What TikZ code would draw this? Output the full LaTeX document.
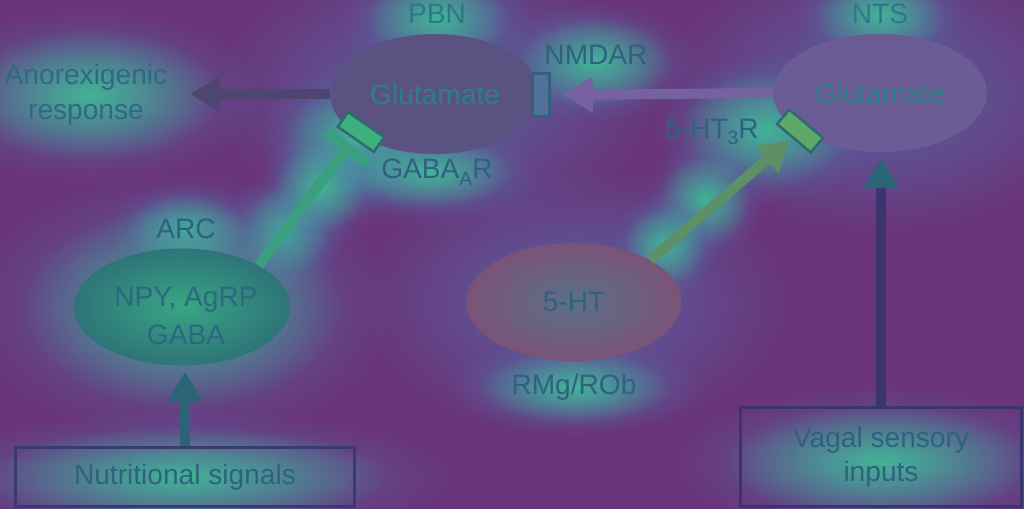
\documentclass[tikz,border=0pt]{standalone}
\usepackage{fontspec}
\setmainfont{Liberation Sans}
\usetikzlibrary{arrows.meta,shapes.geometric,fadings}
\tikzfading[name=glowfade, inner color=transparent!0, outer color=transparent!100]
\definecolor{bg}{HTML}{6A347A}
\definecolor{hblue}{HTML}{5078B0}
\definecolor{hgreen}{HTML}{3FBF92}
\definecolor{pbnc}{HTML}{5A5381}
\definecolor{ntsc}{HTML}{6B5C96}
\definecolor{arcin}{HTML}{38A683}
\definecolor{arcout}{HTML}{2E7478}
\definecolor{htin}{HTML}{5A7088}
\definecolor{htout}{HTML}{7A5378}
\definecolor{gluc}{HTML}{2B8088}
\definecolor{txtc}{HTML}{2E6280}
\definecolor{boxc}{HTML}{3A3A72}
\definecolor{ntsarr}{HTML}{7662A0}
\definecolor{pbnarr}{HTML}{4E4670}
\definecolor{arcline}{HTML}{3B9F7F}
\definecolor{nutarr}{HTML}{2C6477}
\definecolor{htarr}{HTML}{5E9068}
\definecolor{vagarr}{HTML}{3A3470}
\definecolor{recgreen}{HTML}{3DB07D}
\definecolor{recolive}{HTML}{5EA86A}
\definecolor{recedge}{HTML}{2E6A70}
\definecolor{nmdafill}{HTML}{51709A}
\newcommand\hglow[4]{%
  \fill[hblue, opacity=0.75, path fading=glowfade] (#1,#2) ellipse ({1.6*#3} and {1.6*#4});
  \fill[hgreen, opacity=0.85, path fading=glowfade] (#1,#2) ellipse ({1.2*#3} and {1.2*#4});
}
\newcommand\bglow[4]{%
  \fill[hblue, opacity=0.7, path fading=glowfade] (#1,#2) ellipse ({1.6*#3} and {1.6*#4});
}
\begin{document}
\begin{tikzpicture}[x=0.02cm,y=-0.02cm,
  lab/.style={font=\fontsize{16}{20}\selectfont, inner sep=0pt, align=center, text=txtc},
  cell/.style={ellipse, inner sep=0pt, font=\fontsize{16}{20}\selectfont, text=gluc},
  arr/.style={line width=0.2cm, -{Triangle[length=0.6cm,width=0.68cm]}},
  box/.style={draw=boxc, line width=0.06cm, inner sep=0pt, font=\fontsize{16}{20}\selectfont, text=txtc, align=center},
  recep/.style={draw=recedge, line width=0.05cm, inner sep=0pt}
]
\fill[bg] (0,0) rectangle (1024,509);
\useasboundingbox (0,0) rectangle (1024,509);
% heat glows
\bglow{435}{94}{140}{88}
\bglow{880}{93}{140}{88}
\bglow{574}{302}{135}{85}
\hglow{437}{18}{60}{38}
\hglow{595}{62}{65}{38}
\hglow{90}{95}{110}{55}
\hglow{355}{140}{60}{48}
\hglow{430}{172}{70}{30}
\hglow{285}{230}{38}{38}
\hglow{320}{188}{38}{38}
\hglow{186}{229}{50}{30}
\hglow{182}{307}{135}{85}
\hglow{185}{477}{170}{42}
\hglow{765}{130}{70}{48}
\hglow{705}{200}{38}{38}
\hglow{665}{245}{34}{34}
\hglow{574}{387}{80}{30}
\hglow{880}{15}{55}{35}
\hglow{880}{462}{130}{48}
% regions
\node[cell, fill=pbnc, minimum width=4.2cm, minimum height=2.4cm] (pbn) at (435,94) {Glutamate};
\node[cell, fill=ntsc, minimum width=4.28cm, minimum height=2.36cm] (nts) at (880,93) {Glutamate};
\node[cell, inner color=arcin, outer color=arcout, minimum width=4.32cm, minimum height=2.34cm] (arc) at (182,307) {};
\node[lab, font=\fontsize{16}{22}\selectfont, text=txtc!85!gluc] (arctxt) at (186,316) {NPY, AgRP\\GABA};
\node[cell, inner color=htin, outer color=htout, minimum width=4.3cm, minimum height=2.36cm, text=txtc] (ht) at (574,302) {5-HT};
% labels
\node[lab, text=gluc!80!txtc] (pbnlab) at (437,14) {PBN};
\node[lab, text=gluc!80!txtc] (ntslab) at (880,14) {NTS};
\node[lab] (arclab) at (186,229) {ARC};
\node[lab] (rmglab) at (574,387) {RMg/ROb};
\node[lab] (nmdalab) at (596,55) {NMDAR};
\node[lab] (gabalab) at (437,172) {GABA\raisebox{-0.45ex}{\fontsize{11}{11}\selectfont A}R};
\node[lab] (htrlab) at (712,132) {5-HT\raisebox{-0.45ex}{\fontsize{11}{11}\selectfont 3}R};
\node[lab, text=txtc!70!gluc] (anor) at (86,95) {Anorexigenic\\response};
% receptors
\node[recep, draw=txtc, fill=nmdafill, minimum width=0.34cm, minimum height=0.86cm] (nmdar) at (541,95) {};
\node[recep, fill=recgreen, minimum width=0.88cm, minimum height=0.36cm, rotate=-35] (gabar) at (361,132) {};
\node[fill=arcline, inner sep=0pt, minimum width=1.05cm, minimum height=0.2cm, rotate=-38] (tbar) at (347,148) {};
\node[recep, fill=recolive, minimum width=0.88cm, minimum height=0.38cm, rotate=-40] (htr) at (800,131) {};
% boxes
\node[box, minimum width=6.8cm, minimum height=1.2cm] (nut) at (185,477) {Nutritional signals};
\node[box, draw=vagarr, minimum width=5.64cm, minimum height=2.0cm, font=\fontsize{16}{19.5}\selectfont] (vag) at (881,457) {Vagal sensory\\inputs};
% connectors
\coordinate (anortip) at (190,94);
\draw[arr, pbnarr] (pbn.west) -- (anortip);
\draw[arr, ntsarr, shorten >=0.24cm] (nts.west) -- (nmdar.east);
\draw[line width=0.2cm, arcline] (arc.north east) -- (tbar.center);
\draw[arr, htarr, shorten >=0.06cm] (ht.north east) -- (htr);
\draw[arr, nutarr, shorten >=0.12cm] (nut.north) -- (nut.north |- arc.south);
\draw[line width=0.2cm, vagarr, -{Triangle[length=0.6cm,width=0.68cm,color=nutarr]}, shorten >=0.12cm] (vag.north) -- (vag.north |- nts.south);
\end{tikzpicture}
\end{document}
